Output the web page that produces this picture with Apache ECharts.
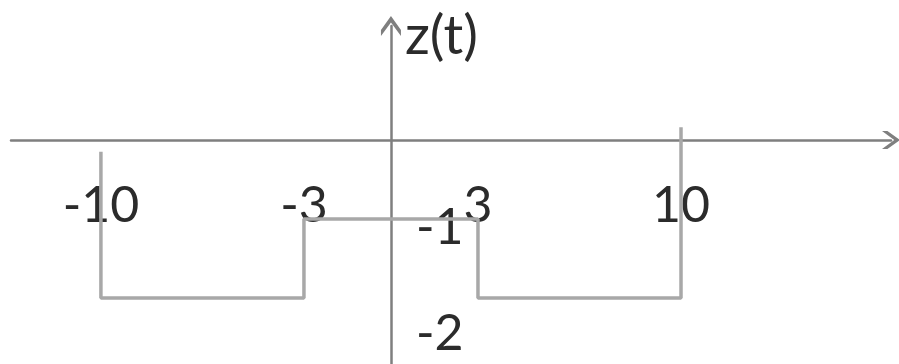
<!DOCTYPE html>
<html lang="en">
<head>
    <meta charset="UTF-8">
    <script type="text/javascript" src="https://cdn.jsdelivr.net/npm/echarts@6/dist/echarts.min.js"></script>
    <style>
        html, body { margin: 0; padding: 0; background: #fff; }
        #signal { width: 899px; height: 364px; }
    </style>
</head>
<body>
<div id="signal"></div>
<script type="text/javascript">
    // z(t) corners
    var tValues = [-10, -10, -3, -3, 3, 3, 10, 10];
    var zValues = [-0.15, -2, -2, -1, -1, -2, -2, 0.16];
    var tTicks = [-10, -3, 3, 10];
    var zTicks = [-1, -2];

    var font = 'Lato';
    var points = tValues.map(function (t, i) { return [t, zValues[i]]; });
    var chevron = 'path://M0,7 L5,0 L10,7 L10,10 L5,3.2 L0,10 Z';

    var W = 899, H = 364;
    var grid = { left: 11, right: 8, top: 26, bottom: 0 };
    var tMin = -13.1, tMax = 17.24, zMin = -2.835, zMax = 1.443;
    // v6 keeps labels at the grid edge, so move the axes onto the origin with offset
    var xOffset = -(H - grid.top - grid.bottom) * (0 - zMin) / (zMax - zMin);
    var yOffset = -(W - grid.left - grid.right) * (0 - tMin) / (tMax - tMin);

    var chart = echarts.init(document.getElementById('signal'));
    chart.setOption({
        animation: false,
        grid: { left: grid.left, right: grid.right, top: grid.top, bottom: grid.bottom, containLabel: false, outerBoundsMode: 'none' },
        xAxis: {
            type: 'value',
            min: tMin,
            max: tMax,
            position: 'bottom',
            offset: xOffset,
            axisLine: {
                onZero: false,
                symbol: ['none', chevron],
                symbolSize: [32, 18],
                lineStyle: { color: '#7f7f7f', width: 2.5 }
            },
            axisTick: { show: false },
            splitLine: { show: false },
            axisLabel: {
                customValues: tTicks,
                margin: 41,
                fontFamily: font,
                fontSize: 50,
                lineHeight: 50,
                color: '#2b2b2b'
            }
        },
        yAxis: {
            type: 'value',
            min: zMin,
            max: zMax,
            position: 'left',
            offset: yOffset,
            name: 'z(t)',
            nameLocation: 'end',
            nameGap: -10,
            nameTextStyle: {
                fontFamily: font,
                fontSize: 55,
                color: '#2b2b2b',
                align: 'left',
                verticalAlign: 'middle',
                padding: [0, 0, 0, 14]
            },
            axisLine: {
                onZero: false,
                symbol: ['none', chevron],
                symbolSize: [26, 20],
                lineStyle: { color: '#7f7f7f', width: 2.5 }
            },
            axisTick: { show: false },
            splitLine: { show: false },
            axisLabel: {
                inside: true,
                customValues: zTicks,
                margin: 25,
                formatter: function (v) { return v === -1 ? '{a|-1}' : '{b|-2}'; },
                rich: {
                    a: { fontFamily: font, fontSize: 50, color: '#2b2b2b', padding: [18, 0, 0, 0] },
                    b: { fontFamily: font, fontSize: 50, color: '#2b2b2b', padding: [72, 0, 0, 0] }
                }
            }
        },
        series: [{
            type: 'line',
            data: points,
            symbol: 'none',
            z: 1,
            lineStyle: { color: '#a8a8a8', width: 3.5 }
        }]
    });
</script>
</body>
</html>
